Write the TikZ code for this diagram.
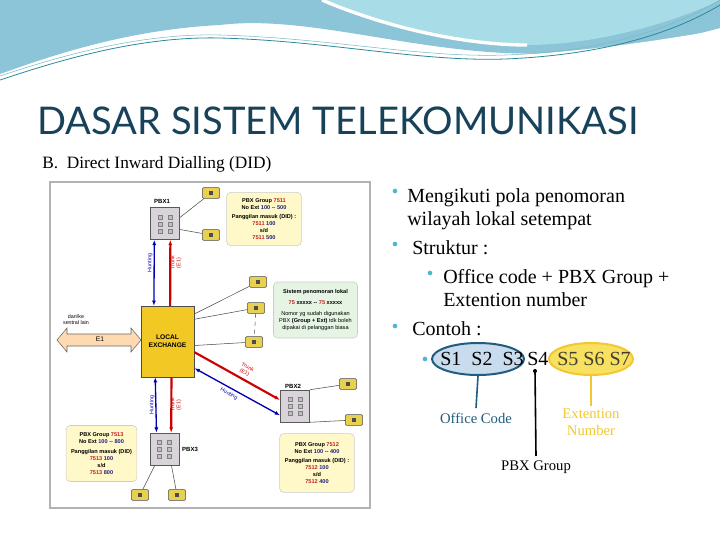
\documentclass[tikz,border=0pt]{standalone}
\usepackage{fontspec}
\setmainfont{Liberation Serif}
\newfontfamily\titlefont{Lato}
\newfontfamily\dsans{Liberation Sans}
\usetikzlibrary{arrows.meta,shapes.geometric}
\definecolor{wave}{HTML}{8CC4D8}
\definecolor{wavelight}{HTML}{A8DDE8}
\definecolor{teal}{HTML}{2A8A9A}
\definecolor{titlec}{HTML}{17425A}
\definecolor{bul}{HTML}{4BB8CF}
\definecolor{lex}{HTML}{F2C825}
\definecolor{pbxc}{HTML}{D8D4DA}
\definecolor{infoy}{HTML}{FFF8C8}
\definecolor{infog}{HTML}{E6F4E4}
\definecolor{phone}{HTML}{E8D050}
\definecolor{ocblue}{HTML}{1F5C7E}
\definecolor{ocfill}{HTML}{C8DCEE}
\definecolor{exy}{HTML}{F2C832}
\definecolor{exfill}{HTML}{F8E060}
\definecolor{numred}{HTML}{C02020}
\definecolor{numblue}{HTML}{20207A}
\tikzset{
  pbx/.style={draw=gray!70!black,fill=pbxc,minimum width=22pt,minimum height=24pt,inner sep=0pt},
  info/.style={draw=gray!40,fill=infoy,rounded corners=3pt,align=center,font=\dsans\fontsize{4.2}{5.2}\selectfont,inner sep=2pt},
  phn/.style={draw=black!70,fill=phone,minimum width=13pt,minimum height=8pt,inner sep=0pt,rounded corners=1pt},
  wire/.style={draw=gray!60!black,line width=0.4pt},
  hunt/.style={draw=blue!70!black,line width=1pt,{Latex[length=4pt]}-{Latex[length=4pt]}},
  trunk/.style={draw=red!80!black,line width=1.6pt,-{Latex[length=4pt]}},
  lbl/.style={font=\dsans\fontsize{4}{4.5}\selectfont},
  bl/.style={font=\fontsize{15}{18}\selectfont,anchor=base west,inner sep=0pt},
  dot/.style={circle,fill=bul,inner sep=0pt,minimum size=3.5pt}
}
\begin{document}
\begin{tikzpicture}[x=0.75pt,y=-0.75pt]
\useasboundingbox (0,0) rectangle (720,540);
\fill[white] (0,0) rectangle (720,540);
% header wave
\fill[wave] (0,0) -- (720,0) -- (720,28) .. controls (640,50) and (580,56) .. (505,53)
  .. controls (400,48) and (300,15) .. (220,25) .. controls (120,30) and (40,60) .. (0,74) -- cycle;
\fill[wavelight] (322,0) .. controls (380,25) and (460,45) .. (527,45) .. controls (600,45) and (680,20) .. (720,0) -- cycle;
\draw[white,line width=2.5pt] (322,0) .. controls (380,25) and (460,45) .. (527,45);
\fill[white] (0,78) .. controls (50,62) and (130,32) .. (220,35) .. controls (330,38) and (420,60) .. (505,56)
  .. controls (600,50) and (660,40) .. (720,30) -- (720,36) .. controls (660,48) and (600,58) .. (505,62)
  .. controls (420,66) and (330,44) .. (220,40) .. controls (130,38) and (50,66) .. (0,82) -- cycle;
\draw[teal,line width=0.6pt] (0,80) .. controls (60,60) and (140,36) .. (220,38) .. controls (330,41) and (420,62) .. (505,59) .. controls (600,55) and (670,35) .. (720,5);
\draw[teal!60,line width=0.4pt] (0,76) .. controls (60,56) and (140,33) .. (220,35) .. controls (330,38) and (420,58) .. (505,55) .. controls (600,52) and (670,30) .. (720,0);
% title
\node[anchor=base west,inner sep=0pt,text=titlec,font=\titlefont\fontsize{28.6}{32}\selectfont] (title) at (37,134) {DASAR SISTEM TELEKOMUNIKASI};
\node[anchor=base west,inner sep=0pt,font=\fontsize{13}{15}\selectfont] (sub) at (42,168) {B.\ \ Direct Inward Dialling (DID)};
% embedded diagram frame
\draw[gray!60,line width=0.8pt] (50,182) rectangle (370,508);
% boxes
\node[draw=black!70,fill=lex,minimum width=40pt,minimum height=53pt,align=center,font=\dsans\bfseries\fontsize{5}{6}\selectfont] (le) at (167.5,341.5) {LOCAL\\EXCHANGE};
\node[pbx] (p1) at (165,223.5) {};
\node[pbx] (p2) at (295,406) {};
\node[pbx] (p3) at (164.5,449) {};
\foreach \n in {p1,p2,p3}{
  \foreach \i in {-1,0,1}{ \draw[gray,fill=gray!50] ([shift={(-7,\i*7-1.5)}]\n.center) rectangle +(4,4);
    \draw[gray,fill=gray!50] ([shift={(3,\i*7-1.5)}]\n.center) rectangle +(4,4);}}
\node[lbl,font=\dsans\bfseries\fontsize{4.5}{5}\selectfont] (p1l) at (162,201) {PBX1};
\node[lbl,font=\dsans\bfseries\fontsize{4.5}{5}\selectfont] (p2l) at (293,386) {PBX2};
\node[lbl,font=\dsans\bfseries\fontsize{4.5}{5}\selectfont] (p3l) at (190,449) {PBX3};
% E1 arrow
\draw[draw=black!60,fill=orange!30,line width=0.4pt] (57,340) -- (67,328) -- (67,334) -- (131,334) -- (131,328) -- (141,340) -- (131,352) -- (131,346) -- (67,346) -- (67,352) -- cycle;
\node[lbl,font=\dsans\fontsize{5}{6}\selectfont] (e1) at (100,339) {E1};
\node[lbl,align=center] (dari) at (76,320) {dari/ke\\sentral lain};
% phones
\foreach \nm/\px/\py in {a/211/193,b/211/235,c/258/282,d/256/308,e/254/342,f/348/384,g/354/420,h/140/495,i/177/495}{
  \node[phn] (ph\nm) at (\px,\py) {};
  \fill[black!70] ([shift={(-2,-2)}]ph\nm.center) rectangle +(4,4);
}
\draw[wire] ([yshift=4.5]p1.east) -- (pha);
\draw[wire] ([yshift=-4.5]p1.east) -- (phb);
\draw[wire] ([yshift=-6]le.north east) -- (phc);
\draw[wire] ([yshift=-10]le.north east) -- (phd);
\draw[wire] ([yshift=-3]le.east) -- (phe);
\draw[wire,dashed] (phd) -- (phe);
\draw[wire] (p2.north east) -- (phf);
\draw[wire] (p2.south east) -- (phg);
\draw[wire] ([xshift=4]p3.south west) -- (phh);
\draw[wire] ([xshift=-6]p3.south east) -- (phi);
% trunks and hunting
\draw[hunt] ([xshift=10]le.north west) -- ([xshift=-8]p1.south);
\draw[trunk] ([xshift=2]le.north) -- ([xshift=4]p1.south);
\draw[hunt] ([xshift=11]le.south west) -- ([xshift=-6]p3.north);
\draw[trunk] ([xshift=3]le.south) -- ([xshift=5]p3.north);
\draw[trunk] ([yshift=-8]le.east) -- ([yshift=4.5]p2.west);
\draw[hunt] ([yshift=-20]le.east) -- ([yshift=-7]p2.west);
\node[lbl,text=blue!70!black,rotate=90] (h1) at (150,263) {Hunting};
\node[lbl,text=red!80!black,rotate=90,align=center] (t1) at (176,263) {Trunk\\(E1)};
\node[lbl,text=blue!70!black,rotate=90] (h2) at (152,405) {Hunting};
\node[lbl,text=red!80!black,rotate=90,align=center] (t2) at (176,405) {Trunk\\(E1)};
\node[lbl,text=red!80!black,rotate=-30,align=center] (t3) at (246,370) {Trunk\\(E1)};
\node[lbl,text=blue!70!black,rotate=-28] (h3) at (229,394) {Hunting};
% info boxes
\node[info,minimum width=56pt,minimum height=40pt] (i1) at (264,219) {\textbf{PBX Group {\color{numred}7511}}\\\textbf{No Ext {\color{numblue}100 -- 500}}\\[2pt]\textbf{Panggilan masuk (DID) :}\\\textbf{{\color{numred}7511} {\color{numblue}100}}\\\textbf{s/d}\\\textbf{{\color{numred}7511} {\color{numblue}500}}};
\node[info,fill=infog,minimum width=63pt,minimum height=42pt] (i2) at (315.5,310) {\textbf{Sistem penomoran lokal}\\[3pt]\textbf{{\color{numred}75} xxxxx -- {\color{numred}75} xxxxx}\\[3pt]Nomor yg sudah digunakan\\PBX \textbf{(Group + Ext)} tdk boleh\\dipakai di pelanggan biasa};
\node[info,minimum width=56pt,minimum height=44pt] (i3) at (317,463) {\textbf{PBX Group {\color{numred}7512}}\\\textbf{No Ext {\color{numblue}100 -- 400}}\\[2pt]\textbf{Panggilan masuk (DID) :}\\\textbf{{\color{numred}7512} {\color{numblue}100}}\\\textbf{s/d}\\\textbf{{\color{numred}7512} {\color{numblue}400}}};
\node[info,minimum width=53pt,minimum height=42pt] (i4) at (101.5,453.5) {\textbf{PBX Group {\color{numred}7513}}\\\textbf{No Ext {\color{numblue}100 -- 800}}\\[2pt]\textbf{Panggilan masuk (DID)}\\\textbf{{\color{numred}7513} {\color{numblue}100}}\\\textbf{s/d}\\\textbf{{\color{numred}7513} {\color{numblue}800}}};
% bullets
\node[dot] (d1) at (395,191) {};
\node[bl] (b1) at (407,202) {Mengikuti pola penomoran};
\node[bl] (b1b) at (407,225) {wilayah lokal setempat};
\node[dot] (d2) at (395,244) {};
\node[bl] (b2) at (412,254) {Struktur :};
\node[dot] (d3) at (430,273) {};
\node[bl] (b3) at (443,283) {Office code + PBX Group +};
\node[bl] (b3b) at (443,306) {Extention number};
\node[dot] (d4) at (395,326) {};
\node[bl] (b4) at (412,335) {Contoh :};
\node[dot] (d5) at (425,359) {};
% ellipses
\node[ellipse,draw=ocblue,line width=1.5pt,fill=ocfill,minimum width=92pt*0.75,minimum height=32pt*0.75] (oc) at (478,359) {};
\node[ellipse,draw=exy,line width=1.5pt,fill=exfill,minimum width=84pt*0.75,minimum height=32pt*0.75] (ex) at (591,359) {};
\node[bl] (s13) at (440,365) {S1\ \ S2\ \ S3};
\node[bl] (s4) at (527,365) {S4};
\node[bl,text=black!70!olive] (s57) at (557,365) {S5 S6 S7};
\node[font=\fontsize{11}{13}\selectfont,text=ocblue] (ocl) at (476,418) {Office Code};
\node[font=\fontsize{11}{13}\selectfont,text=exy,align=center] (exl) at (591,422) {Extention\\Number};
\node[font=\fontsize{11}{13}\selectfont] (pbl) at (536,467) {PBX Group};
\draw[ocblue,line width=1.2pt] (oc.south) -- (ocl.north);
\draw[exy,line width=1.2pt] (ex.south) -- ([yshift=-2]exl.north);
\draw[black,line width=1.2pt] (pbl.north) -- (535,371);
\fill (535,371) circle (1.5pt);
\end{tikzpicture}
\end{document}
